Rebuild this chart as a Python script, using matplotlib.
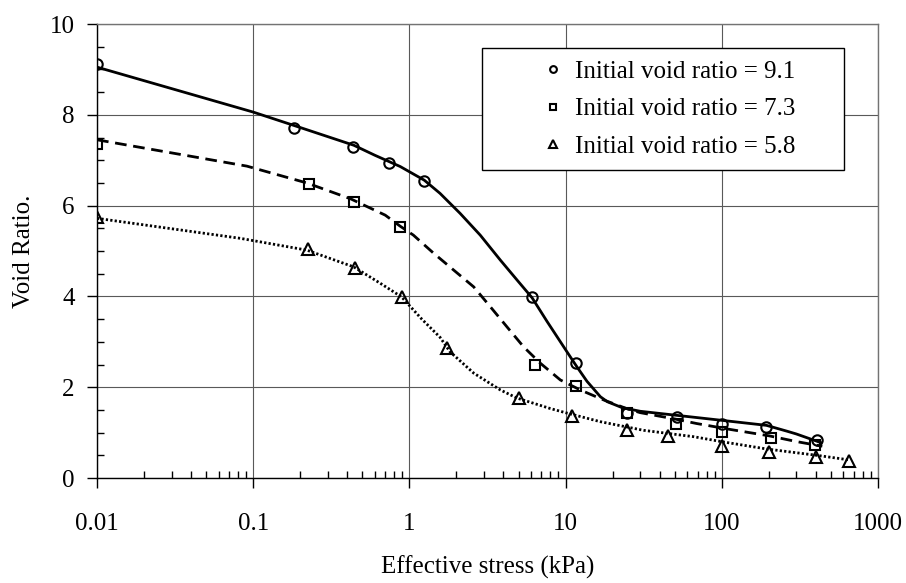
import numpy as np
import matplotlib
matplotlib.use("Agg")
from matplotlib import pyplot as plt
from matplotlib.ticker import FixedLocator, FuncFormatter, LogLocator, NullFormatter, MultipleLocator
from matplotlib.patches import Rectangle

plt.rcParams['font.family'] = ['Liberation Serif', 'DejaVu Serif']
plt.rcParams['font.size'] = 18

# measured points: (effective stress kPa, void ratio)
s_91 = [0.01, 0.183, 0.437, 0.743, 1.245, 6.1, 11.7, 24.7, 51.6, 100, 193, 404]
e_91 = [9.12, 7.71, 7.29, 6.94, 6.54, 3.99, 2.54, 1.44, 1.35, 1.19, 1.12, 0.84]

s_73 = [0.01, 0.227, 0.44, 0.874, 6.4, 11.7, 24.7, 50.6, 100, 205, 395]
e_73 = [7.36, 6.47, 6.09, 5.52, 2.49, 2.03, 1.43, 1.20, 1.02, 0.88, 0.73]

s_58 = [0.01, 0.225, 0.45, 0.9, 1.74, 5.0, 11.0, 24.7, 45.5, 100, 200, 398, 650]
e_58 = [5.76, 5.04, 4.63, 3.98, 2.86, 1.77, 1.37, 1.05, 0.93, 0.70, 0.58, 0.46, 0.37]

# fitted curves
fit_s_91 = [0.01, 0.1, 0.2, 0.44, 0.6, 0.874, 1.245, 1.57, 2.11, 2.84, 3.82, 4.89, 6.1, 7.6,
            10.2, 11.7, 13.7, 16.7, 18.5, 23, 30, 51.6, 100, 193, 262, 300, 430]
fit_e_91 = [9.05, 8.06, 7.72, 7.33, 7.11, 6.86, 6.56, 6.27, 5.83, 5.35, 4.80, 4.36, 3.97, 3.45,
            2.78, 2.47, 2.13, 1.79, 1.68, 1.55, 1.47, 1.38, 1.27, 1.16, 1.03, 0.97, 0.78]

fit_s_73 = [0.01, 0.091, 0.22, 0.42, 0.7, 0.87, 1.06, 1.43, 1.92, 2.58, 3.3, 4.21, 5.38, 6.88,
            9.25, 12.4, 17.5, 25, 30, 50, 69, 113, 200, 303, 440]
fit_e_73 = [7.45, 6.87, 6.5, 6.15, 5.79, 5.55, 5.35, 4.95, 4.58, 4.21, 3.77, 3.33, 2.89, 2.53,
            2.16, 1.94, 1.72, 1.52, 1.44, 1.3, 1.2, 1.07, 0.93, 0.8, 0.70]

fit_s_58 = [0.01, 0.0824, 0.22, 0.44, 0.65, 0.89, 1.2, 1.57, 1.82, 2.58, 3.82, 4.89, 7.98,
            10.2, 16.7, 31.6, 66, 100, 193, 405, 650]
fit_e_58 = [5.72, 5.28, 5.02, 4.65, 4.29, 3.99, 3.5, 3.1, 2.78, 2.31, 1.94, 1.76, 1.53,
            1.43, 1.24, 1.05, 0.91, 0.80, 0.64, 0.50, 0.40]

x_ticks = [0.01, 0.1, 1, 10, 100, 1000]
legend_labels = ['Initial void ratio = 9.1', 'Initial void ratio = 7.3', 'Initial void ratio = 5.8']

fig = plt.figure(figsize=(9.06, 5.83), dpi=100)
ax = fig.add_axes([0.1071, 0.1801, 0.862, 0.7787])

ax.plot(fit_s_91, fit_e_91, color='black', lw=2.0, solid_joinstyle='round')
ax.plot(fit_s_73, fit_e_73, color='black', lw=2.0, dashes=(4.2, 2.4))
ax.plot(fit_s_58, fit_e_58, color='black', lw=2.0, dashes=(0.8, 0.8))

mk = dict(linestyle='none', color='black', markerfacecolor='none', markeredgewidth=1.5)
ax.plot(s_91, e_91, marker='o', markersize=7.5, label=legend_labels[0], **mk)
ax.plot(s_73, e_73, marker='s', markersize=7, label=legend_labels[1], **mk)
ax.plot(s_58, e_58, marker='^', markersize=8.5, label=legend_labels[2], **mk)

ax.set_xscale('log')
ax.set_xlim(0.01, 1000)
ax.set_ylim(0, 10)

ax.xaxis.set_major_locator(FixedLocator(x_ticks))
ax.xaxis.set_major_formatter(FuncFormatter(lambda v, p: '%g' % v))
ax.xaxis.set_minor_locator(LogLocator(base=10, subs=np.arange(2, 10)))
ax.xaxis.set_minor_formatter(NullFormatter())
ax.yaxis.set_major_locator(MultipleLocator(2))
ax.yaxis.set_minor_locator(MultipleLocator(0.5))

ax.tick_params(which='major', direction='out', length=7, width=1, color='black')
ax.tick_params(which='minor', direction='in', length=5, width=1, color='black')
ax.tick_params(axis='x', which='major', pad=18)
ax.tick_params(axis='y', which='major', pad=9)

ax.grid(True, which='major', color='0.35', lw=0.8)
ax.set_axisbelow(True)
for side in ['top', 'right']:
    ax.spines[side].set_color('0.45')
for spine in ax.spines.values():
    spine.set_linewidth(1)

ax.set_xlabel('Effective stress (kPa)', labelpad=15)
ax.set_ylabel('Void Ratio.', labelpad=11)

# legend box drawn separately so the padding can be wider than the text
x0, y0, x1, y1 = 0.493, 0.678, 0.956, 0.947
ax.add_patch(Rectangle((x0, y0), x1 - x0, y1 - y0, transform=ax.transAxes,
                       facecolor='white', edgecolor='black', lw=1, zorder=4.5))
leg = ax.legend(loc='center', bbox_to_anchor=((x0 + x1) / 2 + 0.008, (y0 + y1) / 2),
                frameon=False, markerscale=0.65, handlelength=0.8, handletextpad=0.5,
                labelspacing=0.6, borderpad=0, fontsize=18)
leg.set_zorder(5)

fig.savefig('out.png', dpi=100)
